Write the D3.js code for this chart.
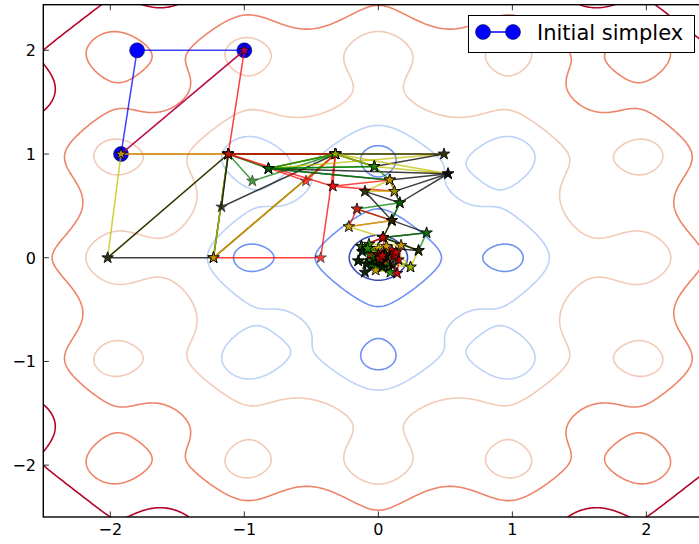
<!DOCTYPE html>
<html>
<head>
<meta charset="utf-8">
<script src="https://cdn.jsdelivr.net/npm/d3@7"></script>
<style>
  body { margin: 0; background: #fff; }
  svg { display: block; }
  text { font-family: "DejaVu Sans", sans-serif; fill: #000; }
</style>
</head>
<body>
<svg id="chart" width="699" height="544"></svg>
<script>
// Contour levels of the Ackley surface
const levels = [1.5, 3, 4.5, 6, 7.5, 9];
const levelColors = ["#3b4cc0", "#6f93f3", "#bcd2f7", "#f2cab7", "#ee8468", "#b40426"];

const xTicks = [-2, -1, 0, 1, 2];
const yTicks = [-2, -1, 0, 1, 2];

// Points visited by the search
const vertices = [
  [-1.0, 2.0], [-1.92, 1.0], [-1.8, 2.0], [-1.12, 1.0], [-2.02, 0.0],
  [-1.23, 0.0], [-0.32, 1.0], [-0.43, 0.0], [-0.94, 0.74], [-1.17, 0.49],
  [-0.82, 0.86], [-0.54, 0.74], [-0.34, 0.69], [0.49, 1.0], [0.52, 0.81],
  [-0.03, 0.88], [0.085, 0.75], [0.12, 0.64], [-0.10, 0.64], [0.16, 0.53],
  [-0.16, 0.47], [0.10, 0.36], [-0.22, 0.30], [0.36, 0.24], [0.035, 0.195],
  [0.30, 0.07], [0.24, -0.09], [-0.126, 0.11], [0.05, 0.03], [-0.15, -0.03],
  [0.14, -0.15], [0.17, 0.12], [-0.07, 0.13], [-0.10, -0.14], [0.15, -0.02],
  [0.0, 0.09], [-0.05, -0.04], [0.08, -0.10], [0.10, 0.07], [-0.03, 0.05],
  [0.05, -0.06], [-0.04, -0.08], [-0.06, 0.03], [0.07, 0.04], [0.02, -0.04],
  [0.0, 0.03], [0.04, 0.01], [0.01, -0.01], [0.03, 0.02], [0.02, 0.0],
  [-0.12, 0.06], [0.12, 0.02], [-0.02, -0.12], [0.09, -0.14], [-0.09, -0.06],
  [0.13, 0.05], [0.06, 0.11], [-0.08, 0.09], [0.03, -0.09], [0.11, -0.07]
];

// Starting triangle (indices into vertices)
const initialSimplex = [1, 2, 0];

// Successive simplices (indices into vertices)
const simplexSteps = [
  [1, 0, 3], [1, 3, 4], [3, 4, 5], [3, 5, 6], [5, 7, 6], [3, 5, 6],
  [3, 9, 6], [3, 8, 6], [3, 11, 6], [3, 10, 6], [3, 12, 6], [10, 6, 13],
  [6, 13, 15], [10, 6, 15], [6, 15, 14], [10, 14, 16], [10, 15, 16], [12, 16, 17],
  [14, 17, 19], [16, 18, 17], [18, 19, 21], [20, 19, 21], [20, 21, 22], [21, 22, 24],
  [21, 24, 23], [24, 23, 25], [24, 25, 26], [24, 25, 27], [27, 26, 28], [24, 27, 28],
  [26, 28, 29], [27, 28, 29], [28, 29, 30], [28, 31, 30], [28, 31, 32], [28, 32, 33],
  [28, 34, 33], [28, 34, 35], [28, 36, 35], [28, 36, 37], [28, 38, 37], [28, 38, 39],
  [28, 40, 39], [28, 40, 41], [28, 42, 41], [28, 42, 43], [28, 44, 43],
  [28, 50, 44], [28, 50, 51], [28, 52, 51], [28, 52, 53], [28, 54, 53],
  [28, 54, 55], [28, 56, 55], [28, 56, 57], [28, 58, 57], [28, 58, 59],
  [45, 44, 28], [45, 46, 44], [45, 46, 47], [48, 46, 47], [48, 49, 47],
  [48, 49, 46], [49, 47, 48]
];

// Colour code of each step: r = red, y = yellow, k = black, g = green
const stepCodes = ("rykg" + "rykg" + "rgry" + "kgyk" + "grky" + "kgry" + "kgyk" +
  "grygk" + "rygk" + "rygk" + "rygk" + "ry" + "gkrygkrygk" + "gkrygkr").split("");

const palette = { r: "#ff0000", y: "#bfbf00", k: "#000000", g: "#008000" };

const svg = d3.select("#chart");
const W = 699, H = 544;
svg.append("rect").attr("width", W).attr("height", H).attr("fill", "#fff");

const plot = { left: 43.3, right: 713.4, top: 4.7, bottom: 517 };
const x = d3.scaleLinear().domain([-2.5, 2.5]).range([plot.left, plot.right]);
const y = d3.scaleLinear().domain([-2.5, 2.44]).range([plot.bottom, plot.top]);

svg.append("clipPath").attr("id", "plotClip")
  .append("rect")
  .attr("x", plot.left).attr("y", plot.top)
  .attr("width", plot.right - plot.left).attr("height", plot.bottom - plot.top);

// Ackley function
function ackley(px, py) {
  return -20 * Math.exp(-0.2 * Math.sqrt(0.5 * (px * px + py * py)))
    - Math.exp(0.5 * (Math.cos(2 * Math.PI * px) + Math.cos(2 * Math.PI * py)))
    + Math.E + 20;
}

// Sample the surface on a grid a little wider than the axes
const g0 = -2.8, gStep = 0.01, gN = 561;
const values = new Float64Array(gN * gN);
for (let j = 0; j < gN; j++) {
  for (let i = 0; i < gN; i++) {
    values[j * gN + i] = ackley(g0 + i * gStep, g0 + j * gStep);
  }
}
const contours = d3.contours().size([gN, gN]).thresholds(levels)(values);
const gridToPx = d3.geoTransform({
  point(gx, gy) {
    this.stream.point(x(g0 + (gx - 0.5) * gStep), y(g0 + (gy - 0.5) * gStep));
  }
});
const contourPath = d3.geoPath(gridToPx);

const plotG = svg.append("g").attr("clip-path", "url(#plotClip)");
plotG.append("g").selectAll("path")
  .data(contours)
  .join("path")
  .attr("d", contourPath)
  .attr("fill", "none")
  .attr("stroke", d => levelColors[levels.indexOf(d.value)])
  .attr("stroke-width", 1.6)
  .attr("stroke-linejoin", "round");

const line = d3.line().x(d => x(d[0])).y(d => y(d[1]));
const pts = idx => idx.map(i => vertices[i]);

// Initial simplex (blue, round markers)
const init = pts(initialSimplex);
plotG.append("path")
  .attr("d", line([...init, init[0]]))
  .attr("fill", "none").attr("stroke", "#0000ff")
  .attr("stroke-width", 1.5).attr("stroke-opacity", 0.75);
plotG.append("g").selectAll("circle")
  .data(init)
  .join("circle")
  .attr("cx", d => x(d[0])).attr("cy", d => y(d[1]))
  .attr("r", 7.5)
  .attr("fill", "#0000ff").attr("stroke", "#000").attr("stroke-width", 0.5);

// Simplex steps: closed triangles with star markers on the vertices
const star = d3.symbol().type(d3.symbolStar).size(40);
simplexSteps.forEach((idx, k) => {
  const tri = pts(idx);
  const col = palette[stepCodes[k]];
  const g = plotG.append("g").attr("opacity", 0.75);
  g.append("path")
    .attr("d", line([...tri, tri[0]]))
    .attr("fill", "none").attr("stroke", col).attr("stroke-width", 1.5);
  g.selectAll("path.star")
    .data(tri)
    .join("path")
    .attr("class", "star")
    .attr("d", star)
    .attr("transform", d => `translate(${x(d[0])},${y(d[1])})`)
    .attr("fill", col).attr("stroke", "#000").attr("stroke-width", 0.8);
});

// Frame and inward ticks
const frame = svg.append("g");
frame.append("rect")
  .attr("x", plot.left).attr("y", plot.top)
  .attr("width", plot.right - plot.left).attr("height", plot.bottom - plot.top)
  .attr("fill", "none").attr("stroke", "#000").attr("stroke-width", 1.4);

const tickLen = 5.6;
const fmt = t => (t < 0 ? "\u2212" + Math.abs(t) : String(t));
xTicks.forEach(t => {
  frame.append("line").attr("x1", x(t)).attr("x2", x(t))
    .attr("y1", plot.bottom).attr("y2", plot.bottom - tickLen)
    .attr("stroke", "#000").attr("stroke-width", 0.8);
  frame.append("line").attr("x1", x(t)).attr("x2", x(t))
    .attr("y1", plot.top).attr("y2", plot.top + tickLen)
    .attr("stroke", "#000").attr("stroke-width", 0.8);
  frame.append("text")
    .attr("x", x(t)).attr("y", 535)
    .attr("text-anchor", "middle").attr("font-size", 16)
    .text(fmt(t));
});
yTicks.forEach(t => {
  frame.append("line").attr("x1", plot.left).attr("x2", plot.left + tickLen)
    .attr("y1", y(t)).attr("y2", y(t))
    .attr("stroke", "#000").attr("stroke-width", 0.8);
  frame.append("text")
    .attr("x", 36).attr("y", y(t) + 6)
    .attr("text-anchor", "end").attr("font-size", 16)
    .text(fmt(t));
});

// Legend
const leg = svg.append("g");
leg.append("rect")
  .attr("x", 468.5).attr("y", 15.5).attr("width", 226).attr("height", 37)
  .attr("fill", "#fff").attr("stroke", "#000").attr("stroke-width", 1);
leg.append("line").attr("x1", 483).attr("x2", 513).attr("y1", 32).attr("y2", 32)
  .attr("stroke", "#0000ff").attr("stroke-width", 1.5);
[483, 513].forEach(cx => leg.append("circle")
  .attr("cx", cx).attr("cy", 32).attr("r", 7.5)
  .attr("fill", "#0000ff").attr("stroke", "#000").attr("stroke-width", 0.5));
leg.append("text").attr("x", 537).attr("y", 40)
  .attr("font-size", 21).text("Initial simplex");
</script>
</body>
</html>
